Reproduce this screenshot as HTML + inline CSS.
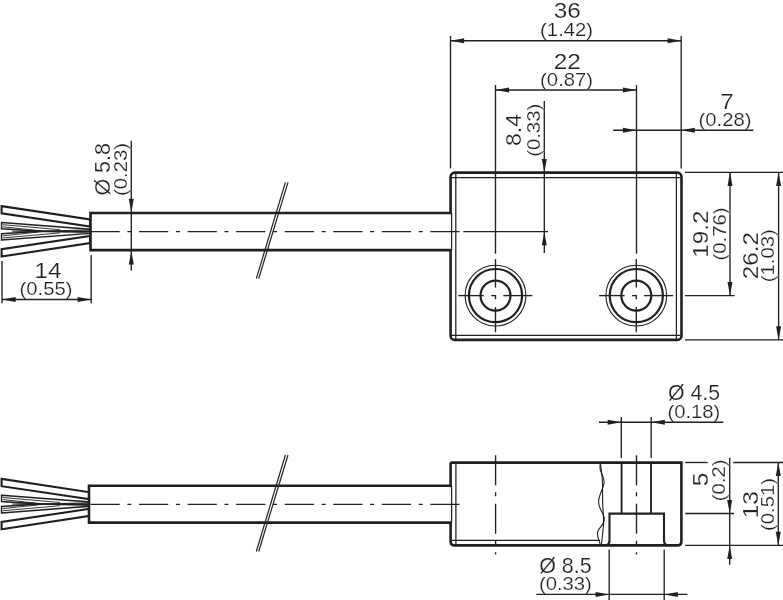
<!DOCTYPE html>
<html lang="en">
<head>
<meta charset="utf-8">
<title>Dimensional drawing</title>
<style>
html,body{margin:0;padding:0;background:#fff;}
body{width:783px;height:600px;overflow:hidden;font-family:"Liberation Sans",Arial,Helvetica,sans-serif;}
svg{display:block;will-change:transform;filter:grayscale(1);}
</style>
</head>
<body>
<svg width="783" height="600" viewBox="0 0 783 600">
<rect x="0" y="0" width="783" height="600" fill="#fff"/>
<g stroke="#231f20" fill="none" stroke-linecap="butt">
<polygon points="1.60,222.50 90.00,229.20 90.00,231.00 41.00,231.30 1.60,228.80" fill="#fff" stroke-width="1.55" stroke-linejoin="miter"/>
<polygon points="1.60,240.10 90.00,233.40 90.00,231.60 41.00,231.30 1.60,233.80" fill="#fff" stroke-width="1.55" stroke-linejoin="miter"/>
<line x1="3" y1="224.7" x2="60" y2="229.7" stroke-width="0.9" />
<line x1="3" y1="226.8" x2="38" y2="230.5" stroke-width="0.9" />
<line x1="3" y1="237.9" x2="60" y2="232.9" stroke-width="0.9" />
<line x1="3" y1="235.8" x2="38" y2="232.1" stroke-width="0.9" />
<polygon points="12.00,231.30 41.00,230.50 41.00,232.10" fill="#231f20" stroke-width="0.5" stroke-linejoin="miter"/>
<line x1="41" y1="231.3" x2="90" y2="229.8" stroke-width="0.8" />
<line x1="41" y1="231.3" x2="90" y2="232.8" stroke-width="0.8" />
<polygon points="1.60,206.10 90.00,219.50 90.00,226.60 1.60,213.40" fill="#fff" stroke-width="2.1" stroke-linejoin="miter"/>
<polygon points="1.60,256.50 90.00,243.10 90.00,236.00 1.60,249.20" fill="#fff" stroke-width="2.1" stroke-linejoin="miter"/>
<path d="M450.7 213 H90.5 V250.1 H450.7" stroke-width="2.6" fill="#fff"/>
<line x1="285.4" y1="182.3" x2="256.3" y2="278.7" stroke-width="1.2" />
<line x1="288.0" y1="182.3" x2="258.7" y2="278.7" stroke-width="1.2" />
<rect x="450.6" y="172.6" width="230.9" height="167.3" rx="4.2" ry="4.2" stroke-width="2.6" />
<line x1="450.7" y1="214.3" x2="450.7" y2="248.8" stroke-width="3.2" stroke="#fff"/>
<line x1="451.6" y1="213" x2="451.6" y2="250.1" stroke-width="1.25" />
<line x1="90.5" y1="231.65" x2="459.6" y2="231.65" stroke-width="1.35" stroke-dasharray="29.2 7.7 4 7.65"/>
<line x1="463.3" y1="231.65" x2="548" y2="231.65" stroke-width="1.35" />
<line x1="455.8" y1="173.5" x2="455.8" y2="339" stroke-width="1.25" />
<line x1="676.4" y1="173.5" x2="676.4" y2="339" stroke-width="1.25" />
<line x1="451.5" y1="177.6" x2="680.5" y2="177.6" stroke-width="1.25" />
<line x1="451.5" y1="335.3" x2="680.5" y2="335.3" stroke-width="1.25" />
<circle cx="495.5" cy="295.6" r="30.4" stroke-width="1.1"/>
<circle cx="495.5" cy="295.6" r="26.6" stroke-width="2.2"/>
<circle cx="495.5" cy="295.6" r="15.0" stroke-width="2.2"/>
<line x1="458.3" y1="295.6" x2="483.8" y2="295.6" stroke-width="1.35" />
<line x1="491.3" y1="295.6" x2="495.8" y2="295.6" stroke-width="1.35" />
<line x1="503.3" y1="295.6" x2="532.3" y2="295.6" stroke-width="1.35" />
<line x1="495.5" y1="259.1" x2="495.5" y2="287.6" stroke-width="1.35" />
<line x1="495.5" y1="295.3" x2="495.5" y2="299.3" stroke-width="1.35" />
<line x1="495.5" y1="307.1" x2="495.5" y2="332.3" stroke-width="1.35" />
<circle cx="636.3" cy="295.6" r="30.4" stroke-width="1.1"/>
<circle cx="636.3" cy="295.6" r="26.6" stroke-width="2.2"/>
<circle cx="636.3" cy="295.6" r="15.0" stroke-width="2.2"/>
<line x1="599.0999999999999" y1="295.6" x2="624.5999999999999" y2="295.6" stroke-width="1.35" />
<line x1="632.0999999999999" y1="295.6" x2="636.5999999999999" y2="295.6" stroke-width="1.35" />
<line x1="644.0999999999999" y1="295.6" x2="673.0999999999999" y2="295.6" stroke-width="1.35" />
<line x1="636.3" y1="259.1" x2="636.3" y2="287.6" stroke-width="1.35" />
<line x1="636.3" y1="295.3" x2="636.3" y2="299.3" stroke-width="1.35" />
<line x1="636.3" y1="307.1" x2="636.3" y2="332.3" stroke-width="1.35" />
<line x1="450.5" y1="36" x2="450.5" y2="168.4" stroke-width="1.35" />
<line x1="681.2" y1="36" x2="681.2" y2="168.4" stroke-width="1.35" />
<line x1="450.5" y1="40.7" x2="681.2" y2="40.7" stroke-width="1.35" />
<polygon points="450.50,40.70 464.10,38.20 464.10,43.20" fill="#231f20" stroke="none"/>
<polygon points="681.20,40.70 667.60,38.20 667.60,43.20" fill="#231f20" stroke="none"/>
<line x1="495.5" y1="85" x2="495.5" y2="253.7" stroke-width="1.35" />
<line x1="636.5" y1="85" x2="636.5" y2="253.7" stroke-width="1.35" />
<line x1="495.5" y1="90.0" x2="636.5" y2="90.0" stroke-width="1.35" />
<polygon points="495.50,90.00 509.10,87.50 509.10,92.50" fill="#231f20" stroke="none"/>
<polygon points="636.50,90.00 622.90,87.50 622.90,92.50" fill="#231f20" stroke="none"/>
<line x1="613.2" y1="130.2" x2="753.3" y2="130.2" stroke-width="1.35" />
<polygon points="636.50,130.20 622.90,127.70 622.90,132.70" fill="#231f20" stroke="none"/>
<polygon points="681.20,130.20 694.80,127.70 694.80,132.70" fill="#231f20" stroke="none"/>
<line x1="544.3" y1="101" x2="544.3" y2="253" stroke-width="1.35" />
<polygon points="544.30,172.60 541.80,159.00 546.80,159.00" fill="#231f20" stroke="none"/>
<polygon points="544.30,231.65 541.80,245.25 546.80,245.25" fill="#231f20" stroke="none"/>
<line x1="131.3" y1="140.8" x2="131.3" y2="270.5" stroke-width="1.35" />
<polygon points="131.30,212.40 128.80,198.80 133.80,198.80" fill="#231f20" stroke="none"/>
<polygon points="131.30,250.80 128.80,264.40 133.80,264.40" fill="#231f20" stroke="none"/>
<line x1="2" y1="261" x2="2" y2="303.2" stroke-width="1.35" />
<line x1="91.2" y1="255" x2="91.2" y2="303.2" stroke-width="1.35" />
<line x1="2" y1="299.5" x2="91.2" y2="299.5" stroke-width="1.35" />
<polygon points="2.00,299.50 15.60,297.00 15.60,302.00" fill="#231f20" stroke="none"/>
<polygon points="91.20,299.50 77.60,297.00 77.60,302.00" fill="#231f20" stroke="none"/>
<line x1="685" y1="172.3" x2="783" y2="172.3" stroke-width="1.35" />
<line x1="685" y1="295.6" x2="734.5" y2="295.6" stroke-width="1.35" />
<line x1="685" y1="339.9" x2="783" y2="339.9" stroke-width="1.35" />
<line x1="730" y1="172.3" x2="730" y2="295.6" stroke-width="1.35" />
<polygon points="730.00,172.30 727.50,185.90 732.50,185.90" fill="#231f20" stroke="none"/>
<polygon points="730.00,295.60 727.50,282.00 732.50,282.00" fill="#231f20" stroke="none"/>
<line x1="778.6" y1="172.3" x2="778.6" y2="339.9" stroke-width="1.35" />
<polygon points="778.60,172.30 776.10,185.90 781.10,185.90" fill="#231f20" stroke="none"/>
<polygon points="778.60,339.90 776.10,326.30 781.10,326.30" fill="#231f20" stroke="none"/>
<polygon points="1.60,495.30 90.00,502.00 90.00,503.80 41.00,504.10 1.60,501.60" fill="#fff" stroke-width="1.55" stroke-linejoin="miter"/>
<polygon points="1.60,512.90 90.00,506.20 90.00,504.40 41.00,504.10 1.60,506.60" fill="#fff" stroke-width="1.55" stroke-linejoin="miter"/>
<line x1="3" y1="497.5" x2="60" y2="502.5" stroke-width="0.9" />
<line x1="3" y1="499.6" x2="38" y2="503.3" stroke-width="0.9" />
<line x1="3" y1="510.70000000000005" x2="60" y2="505.70000000000005" stroke-width="0.9" />
<line x1="3" y1="508.6" x2="38" y2="504.9" stroke-width="0.9" />
<polygon points="12.00,504.10 41.00,503.30 41.00,504.90" fill="#231f20" stroke-width="0.5" stroke-linejoin="miter"/>
<line x1="41" y1="504.1" x2="90" y2="502.6" stroke-width="0.8" />
<line x1="41" y1="504.1" x2="90" y2="505.6" stroke-width="0.8" />
<polygon points="1.60,478.90 90.00,492.30 90.00,499.40 1.60,486.20" fill="#fff" stroke-width="2.1" stroke-linejoin="miter"/>
<polygon points="1.60,529.30 90.00,515.90 90.00,508.80 1.60,522.00" fill="#fff" stroke-width="2.1" stroke-linejoin="miter"/>
<path d="M450.7 485.8 H89.0 V522.6 H450.7" stroke-width="2.6" fill="#fff"/>
<line x1="285.4" y1="455.0" x2="256.3" y2="551.5" stroke-width="1.2" />
<line x1="288.0" y1="455.0" x2="258.7" y2="551.5" stroke-width="1.2" />
<path d="M452.1 462.6 H681.4 V541.2 Q681.4 545.4 677.2 545.4 H454.8 Q450.6 545.4 450.6 541.2 V464.1 Q450.6 462.6 452.1 462.6 Z" stroke-width="2.6"/>
<line x1="450.7" y1="487.1" x2="450.7" y2="521.3" stroke-width="3.2" stroke="#fff"/>
<line x1="451.6" y1="485.8" x2="451.6" y2="522.6" stroke-width="1.25" />
<line x1="90.5" y1="504.3" x2="459.6" y2="504.3" stroke-width="1.35" stroke-dasharray="29.2 7.7 4 7.65"/>
<line x1="455.9" y1="463.5" x2="455.9" y2="544.5" stroke-width="1.25" />
<line x1="451.5" y1="540.3" x2="600" y2="540.3" stroke-width="1.25" />
<path d="M600.4 463.7 C601.4 470 602.3 476 602.5 484 S602.4 500 602.8 506 S604.0 520 603.4 526 S602.2 539 601.4 544.5" stroke-width="1.1"/>
<path d="M600.4 463.7 C599.2 467 600.5 471 601.6 473.6 S604.7 479 604.0 483.5 S599.3 494 598.6 501 S602.6 511 604.1 517 S600.8 526 598.2 530.5 S599.6 541 600.2 544.5" stroke-width="1.1"/>
<line x1="621.6" y1="462.6" x2="621.6" y2="513.6" stroke-width="1.9" />
<line x1="651.0" y1="462.6" x2="651.0" y2="513.6" stroke-width="1.9" />
<path d="M606.8 545 Q609.5 544 609.5 540.5 V513.6 H664 V540.5 Q664 544 666.7 545" stroke-width="2.1"/>
<line x1="495.6" y1="455.3" x2="495.6" y2="554.5" stroke-width="1.35" stroke-dasharray="30 7 4 7.5"/>
<line x1="636.5" y1="455.3" x2="636.5" y2="554.5" stroke-width="1.35" stroke-dasharray="30 7 4 7.5"/>
<line x1="621.3" y1="417" x2="621.3" y2="458" stroke-width="1.35" />
<line x1="651.2" y1="417" x2="651.2" y2="458" stroke-width="1.35" />
<line x1="599" y1="422.2" x2="723.3" y2="422.2" stroke-width="1.35" />
<polygon points="621.30,422.20 607.70,419.70 607.70,424.70" fill="#231f20" stroke="none"/>
<polygon points="651.20,422.20 664.80,419.70 664.80,424.70" fill="#231f20" stroke="none"/>
<line x1="609.2" y1="549.4" x2="609.2" y2="600" stroke-width="1.35" />
<line x1="664.2" y1="549.4" x2="664.2" y2="600" stroke-width="1.35" />
<line x1="536.3" y1="594.4" x2="687.5" y2="594.4" stroke-width="1.35" />
<polygon points="609.20,594.40 595.60,591.90 595.60,596.90" fill="#231f20" stroke="none"/>
<polygon points="664.20,594.40 677.80,591.90 677.80,596.90" fill="#231f20" stroke="none"/>
<line x1="685.2" y1="462.5" x2="707.7" y2="462.5" stroke-width="1.35" />
<line x1="733.2" y1="462.5" x2="783" y2="462.5" stroke-width="1.35" />
<line x1="685.2" y1="513.5" x2="734" y2="513.5" stroke-width="1.35" />
<line x1="685.2" y1="545.4" x2="783" y2="545.4" stroke-width="1.35" />
<line x1="729.7" y1="457.8" x2="729.7" y2="564.8" stroke-width="1.35" />
<polygon points="729.70,513.50 727.20,499.90 732.20,499.90" fill="#231f20" stroke="none"/>
<polygon points="729.70,545.40 727.20,559.00 732.20,559.00" fill="#231f20" stroke="none"/>
<line x1="778.3" y1="462.5" x2="778.3" y2="545.4" stroke-width="1.35" />
<polygon points="778.30,462.50 775.80,476.10 780.80,476.10" fill="#231f20" stroke="none"/>
<polygon points="778.30,545.40 775.80,531.80 780.80,531.80" fill="#231f20" stroke="none"/>
</g>
<g fill="#231f20" stroke="#fff" stroke-width="0.2" paint-order="fill stroke" font-family="'Liberation Sans', Arial, Helvetica, sans-serif">
<text x="567.2" y="18.2" font-size="22.1" text-anchor="middle" textLength="27.04" lengthAdjust="spacingAndGlyphs">36</text>
<text x="566.6" y="36.4" font-size="18.7" text-anchor="middle" textLength="53.0" lengthAdjust="spacingAndGlyphs">(1.42)</text>
<text x="567.2" y="68.9" font-size="22.1" text-anchor="middle" textLength="27.04" lengthAdjust="spacingAndGlyphs">22</text>
<text x="566.6" y="85.8" font-size="18.7" text-anchor="middle" textLength="53.0" lengthAdjust="spacingAndGlyphs">(0.87)</text>
<text x="727" y="108.7" font-size="22.1" text-anchor="middle" textLength="13.52" lengthAdjust="spacingAndGlyphs">7</text>
<text x="725" y="125.9" font-size="18.7" text-anchor="middle" textLength="53.0" lengthAdjust="spacingAndGlyphs">(0.28)</text>
<text x="48" y="277.6" font-size="22.1" text-anchor="middle" textLength="27.04" lengthAdjust="spacingAndGlyphs">14</text>
<text x="46" y="294.8" font-size="18.7" text-anchor="middle" textLength="53.0" lengthAdjust="spacingAndGlyphs">(0.55)</text>
<text x="694.1" y="399.8" font-size="22.1" text-anchor="middle" textLength="52" lengthAdjust="spacingAndGlyphs">Ø 4.5</text>
<text x="693.9" y="418.0" font-size="18.7" text-anchor="middle" textLength="53.0" lengthAdjust="spacingAndGlyphs">(0.18)</text>
<text x="565.4" y="572.7" font-size="22.1" text-anchor="middle" textLength="52.5" lengthAdjust="spacingAndGlyphs">Ø 8.5</text>
<text x="565.4" y="589.6" font-size="18.7" text-anchor="middle" textLength="53.0" lengthAdjust="spacingAndGlyphs">(0.33)</text>
<text transform="translate(109.5 169.3) rotate(-90)" font-size="22.1" text-anchor="middle" textLength="52.5" lengthAdjust="spacingAndGlyphs">Ø 5.8</text>
<text transform="translate(127 169.5) rotate(-90)" font-size="18.7" text-anchor="middle" textLength="53.0" lengthAdjust="spacingAndGlyphs">(0.23)</text>
<text transform="translate(521.3 129.95) rotate(-90)" font-size="22.1" text-anchor="middle" textLength="31.9" lengthAdjust="spacingAndGlyphs">8.4</text>
<text transform="translate(539.5 130.3) rotate(-90)" font-size="18.7" text-anchor="middle" textLength="53.0" lengthAdjust="spacingAndGlyphs">(0.33)</text>
<text transform="translate(708.2 234.1) rotate(-90)" font-size="22.1" text-anchor="middle" textLength="47.31" lengthAdjust="spacingAndGlyphs">19.2</text>
<text transform="translate(726 234) rotate(-90)" font-size="18.7" text-anchor="middle" textLength="53.0" lengthAdjust="spacingAndGlyphs">(0.76)</text>
<text transform="translate(757.8 255.6) rotate(-90)" font-size="22.1" text-anchor="middle" textLength="47.31" lengthAdjust="spacingAndGlyphs">26.2</text>
<text transform="translate(773.8 255.7) rotate(-90)" font-size="18.7" text-anchor="middle" textLength="53.0" lengthAdjust="spacingAndGlyphs">(1.03)</text>
<text transform="translate(708.3 479.5) rotate(-90)" font-size="22.1" text-anchor="middle" textLength="13.52" lengthAdjust="spacingAndGlyphs">5</text>
<text transform="translate(725.2 480.3) rotate(-90)" font-size="18.7" text-anchor="middle" textLength="41.72" lengthAdjust="spacingAndGlyphs">(0.2)</text>
<text transform="translate(758.3 504.8) rotate(-90)" font-size="22.1" text-anchor="middle" textLength="27.04" lengthAdjust="spacingAndGlyphs">13</text>
<text transform="translate(774.3 504.5) rotate(-90)" font-size="18.7" text-anchor="middle" textLength="53.0" lengthAdjust="spacingAndGlyphs">(0.51)</text>
</g>
</svg>
</body>
</html>
